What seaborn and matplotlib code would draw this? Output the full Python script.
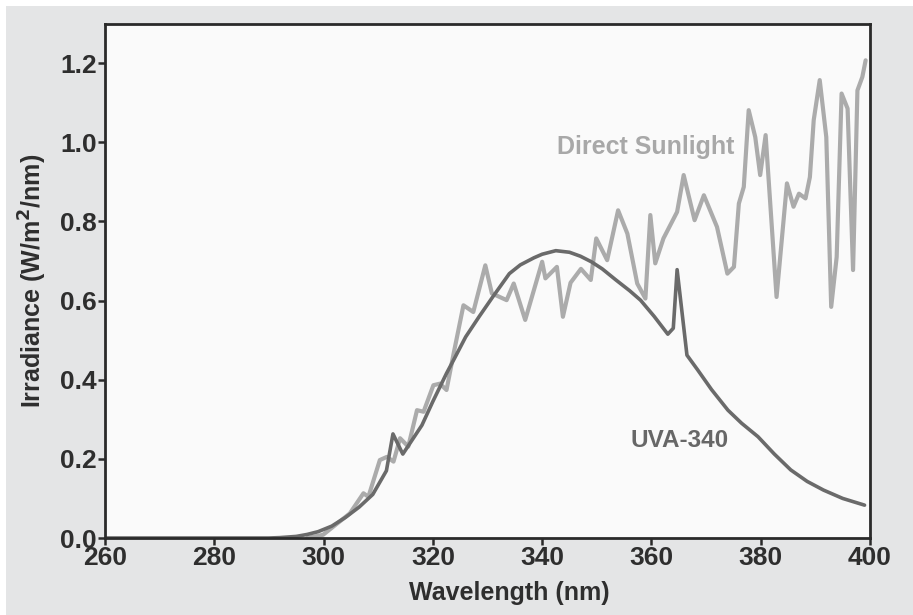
import matplotlib
matplotlib.use("Agg")
import matplotlib.pyplot as plt
import seaborn as sns
import pandas as pd
from matplotlib.patches import Rectangle

# ---- data ----
uva_nm = [260, 290, 292, 295, 297, 299, 301.5, 304, 306.5, 309, 311.5, 312.7, 314.5, 318,
          320, 322.5, 324, 326, 328.5, 331, 334, 336, 338.5, 340, 342.5, 345, 347, 349,
          351, 353.5, 356, 358, 360.5, 363, 364, 364.7, 366.5, 368.5, 371, 374, 376.5,
          379.5, 382.5, 385.5, 388.5, 391.5, 395, 399]
uva_val = [0, 0, 0.001, 0.004, 0.009, 0.016, 0.03, 0.052, 0.078, 0.11, 0.17, 0.263, 0.212,
           0.285, 0.345, 0.416, 0.455, 0.508, 0.56, 0.61, 0.668, 0.69, 0.708, 0.717, 0.726,
           0.722, 0.712, 0.698, 0.68, 0.652, 0.625, 0.601, 0.56, 0.515, 0.53, 0.678, 0.462,
           0.424, 0.375, 0.323, 0.29, 0.256, 0.212, 0.172, 0.143, 0.121, 0.1, 0.083]

sun_nm = [297, 299.9, 304.8, 307.3, 308.2, 310.3, 311.6, 312.8, 314.0, 315.5, 317.1, 318.3,
          320.1, 321.3, 322.5, 323.8, 325.6, 327.4, 329.6, 330.8, 333.5, 334.8, 336.9,
          340.0, 340.6, 342.7, 343.8, 345.2, 347.1, 348.9, 349.9, 351.9, 353.9, 355.6,
          357.4, 358.9, 359.8, 360.7, 362.2, 364.7, 365.9, 367.9, 369.6, 372.0, 373.9,
          375.1, 376.0, 376.9, 377.8, 379.0, 379.9, 380.9, 382.9, 384.8, 386.0, 387.0,
          388.2, 389.0, 389.7, 390.8, 392.0, 392.9, 393.9, 394.8, 395.9, 396.9, 397.7,
          398.6, 399.2]
sun_val = [0, 0.008, 0.062, 0.113, 0.104, 0.197, 0.205, 0.193, 0.252, 0.231, 0.323, 0.319,
           0.386, 0.39, 0.374, 0.466, 0.588, 0.571, 0.689, 0.618, 0.601, 0.643, 0.551,
           0.698, 0.656, 0.685, 0.559, 0.645, 0.68, 0.652, 0.757, 0.702, 0.828, 0.769,
           0.643, 0.605, 0.816, 0.694, 0.757, 0.824, 0.917, 0.803, 0.866, 0.786, 0.668,
           0.685, 0.845, 0.887, 1.081, 1.013, 0.917, 1.018, 0.609, 0.896, 0.837, 0.87,
           0.858, 0.912, 1.056, 1.157, 1.013, 0.584, 0.71, 1.123, 1.085, 0.677, 1.131,
           1.165, 1.207]

x_ticks = [260, 280, 300, 320, 340, 360, 380, 400]
y_ticks = [0.0, 0.2, 0.4, 0.6, 0.8, 1.0, 1.2]

sns.set_style("ticks")
plt.rcParams['font.family'] = ['Liberation Sans', 'DejaVu Sans']

W, H = 913, 615
fig = plt.figure(figsize=(W / 100, H / 100), dpi=100, facecolor="white")
fig.patches.append(Rectangle((6 / W, 0), 1 - 6 / W, 1 - 6 / H, transform=fig.transFigure,
                             facecolor="#e4e5e6", edgecolor="none", zorder=-10))
ax = fig.add_axes([105 / W, 1 - 538 / H, (870 - 105) / W, (538 - 23.5) / H])
ax.set_facecolor("#fafafa")

sun_df = pd.DataFrame({"nm": sun_nm, "val": sun_val})
uva_df = pd.DataFrame({"nm": uva_nm, "val": uva_val})
sns.lineplot(data=sun_df, x="nm", y="val", ax=ax, color="#ababab", linewidth=3.0,
             sort=False, estimator=None)
sns.lineplot(data=uva_df, x="nm", y="val", ax=ax, color="#6a6a6a", linewidth=2.6,
             sort=False, estimator=None)

ax.set_xlim(260, 400)
ax.set_ylim(0, 1.3)
ax.set_xticks(x_ticks)
ax.set_yticks(y_ticks)
ax.set_xticklabels([str(t) for t in x_ticks])
ax.set_yticklabels([f"{t:.1f}" for t in y_ticks])
for sp in ax.spines.values():
    sp.set_visible(True)
    sp.set_linewidth(2.0)
    sp.set_color("#2a2a2a")
ax.tick_params(axis="both", direction="out", length=5, width=1.8, color="#2a2a2a",
               labelsize=19, labelcolor="#2e2e2e", pad=1)
for lab in ax.get_xticklabels() + ax.get_yticklabels():
    lab.set_fontweight("bold")

ax.set_xlabel("Wavelength (nm)", fontsize=18, fontweight="bold", color="#2e2e2e")
ax.xaxis.set_label_coords(0.529, -0.107)
ax.xaxis.label.set_verticalalignment("center")
ax.set_ylabel("Irradiance (W/m$^\\mathbf{2}$/nm)", fontsize=18, fontweight="bold",
              color="#2e2e2e", labelpad=8)

ax.text(342.7, 0.988, "Direct Sunlight", fontsize=18, fontweight="bold", color="#a8a8a8",
        ha="left", va="center")
ax.text(356.1, 0.246, "UVA-340", fontsize=17.5, fontweight="bold", color="#676767",
        ha="left", va="center")

fig.savefig("out.png", dpi=100, facecolor=fig.get_facecolor())
